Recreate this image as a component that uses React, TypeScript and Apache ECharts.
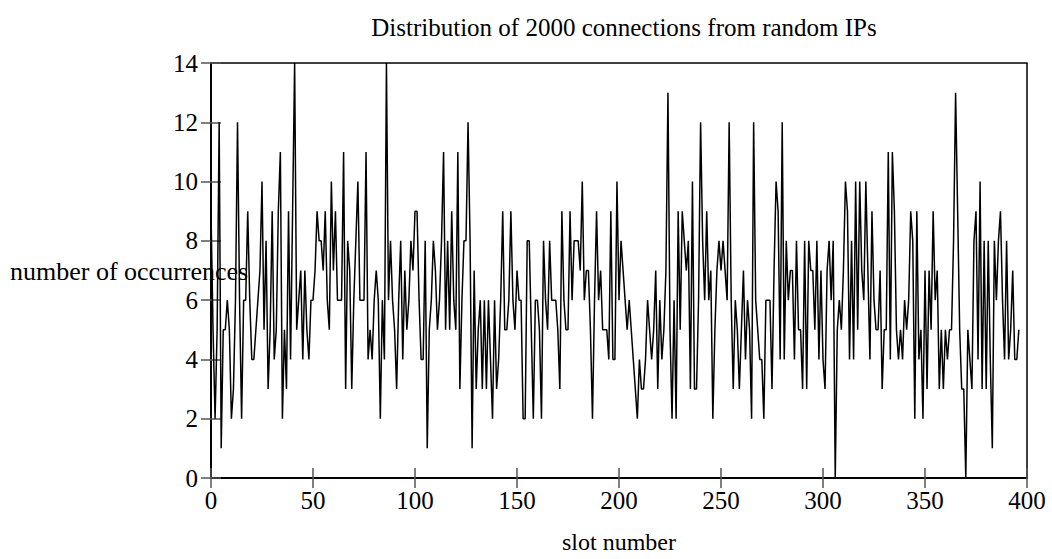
import React, { useEffect, useRef } from "react";
import * as echarts from "echarts";

const titleText = "Distribution of 2000 connections from random IPs";
const xName = "slot number";
const yName = "number of occurrences";

const xTicks = { min: 0, max: 400, interval: 50 };
const yTicks = { min: 0, max: 14, interval: 2 };

// occurrences per slot, slot 0 .. 396
const counts0: number[] = [
  9, 5, 2, 5, 12, 1, 5, 5, 6, 5, 2, 3, 6, 12, 6, 2, 6, 6, 9, 6,
  4, 4, 5, 6, 7, 10, 5, 8, 3, 5, 9, 4, 5, 9, 11, 2, 5, 3, 9, 4,
  9, 14, 5, 6, 7, 4, 7, 5, 4, 6,
];
const counts1: number[] = [
  6, 7, 9, 8, 8, 7, 9, 6, 5, 10, 7, 9, 6, 6, 6, 11, 3, 8, 7, 3,
  6, 8, 10, 6, 6, 6, 11, 4, 5, 4, 6, 7, 6, 2, 6, 4, 14, 6, 8, 6,
  5, 3, 6, 8, 4, 7, 5, 6, 8, 7,
];
const counts2: number[] = [
  9, 9, 6, 4, 4, 8, 1, 5, 6, 8, 7, 5, 6, 8, 11, 5, 8, 5, 9, 6,
  5, 11, 3, 6, 8, 8, 12, 8, 1, 7, 3, 5, 6, 3, 6, 3, 6, 4, 2, 6,
  3, 4, 6, 9, 5, 5, 6, 9, 6, 5,
];
const counts3: number[] = [
  7, 6, 6, 2, 2, 8, 8, 5, 2, 6, 6, 5, 2, 8, 6, 5, 8, 6, 6, 6,
  5, 3, 9, 6, 5, 5, 9, 6, 8, 8, 8, 7, 10, 6, 7, 7, 5, 2, 6, 9,
  6, 7, 5, 5, 5, 4, 9, 4, 4, 10,
];
const counts4: number[] = [
  6, 8, 7, 6, 5, 6, 5, 4, 3, 2, 4, 3, 3, 4, 6, 5, 4, 5, 7, 3,
  6, 4, 5, 7, 13, 5, 2, 6, 2, 9, 5, 9, 8, 7, 8, 3, 10, 3, 3, 6,
  12, 8, 6, 9, 6, 7, 2, 5, 7, 8,
];
const counts5: number[] = [
  7, 8, 7, 6, 12, 6, 3, 6, 5, 3, 5, 7, 4, 6, 5, 2, 12, 6, 5, 4,
  4, 2, 6, 6, 6, 3, 7, 10, 9, 4, 12, 4, 8, 6, 7, 7, 4, 8, 5, 5,
  3, 8, 3, 8, 7, 7, 5, 8, 4, 7,
];
const counts6: number[] = [
  4, 3, 7, 8, 6, 8, 0, 5, 6, 5, 7, 10, 9, 4, 8, 4, 10, 5, 10, 7,
  6, 10, 7, 4, 9, 6, 5, 5, 7, 3, 5, 5, 11, 4, 11, 9, 5, 4, 5, 4,
  6, 5, 6, 9, 8, 2, 9, 4, 5, 2,
];
const counts7: number[] = [
  7, 3, 7, 5, 9, 6, 7, 3, 5, 3, 5, 4, 5, 5, 8, 13, 9, 5, 3, 3,
  0, 5, 4, 3, 8, 9, 4, 10, 3, 8, 3, 8, 4, 1, 8, 6, 8, 9, 6, 4,
  8, 4, 5, 7, 4, 4, 5,
];

const counts: number[] = [
  ...counts0, ...counts1, ...counts2, ...counts3,
  ...counts4, ...counts5, ...counts6, ...counts7,
];

const serif = "'Liberation Serif', 'DejaVu Serif', serif";

export default function App() {
  const ref = useRef<HTMLDivElement>(null);

  useEffect(() => {
    if (!ref.current) return;
    const chart = echarts.init(ref.current, undefined, { renderer: "svg" });
    const data = counts.map((v, i) => [i, v]);
    const axisLineStyle = { color: "#000", width: 1.5 };
    const tickStyle = { color: "#555", width: 1.5 };
    chart.setOption({
      animation: false,
      backgroundColor: "#fff",
      title: {
        text: titleText,
        left: 619,
        textAlign: "center",
        top: 10,
        textStyle: { fontFamily: serif, fontSize: 25, fontWeight: "normal", color: "#000" },
      },
      grid: {
        left: 211,
        top: 63,
        width: 816,
        height: 422,
        show: true,
        borderColor: "#000",
        borderWidth: 1.5,
        backgroundColor: "transparent",
      },
      graphic: [
        {
          type: "text",
          left: 10,
          top: 258,
          style: { text: yName, font: `26px ${serif}`, fill: "#000" },
          z: 100,
        },
      ],
      xAxis: [
        {
          type: "value",
          min: xTicks.min,
          max: xTicks.max,
          interval: xTicks.interval,
          position: "bottom",
          name: xName,
          nameLocation: "middle",
          nameGap: 52,
          nameTextStyle: { fontFamily: serif, fontSize: 24, color: "#000" },
          axisLine: { show: true, lineStyle: axisLineStyle },
          axisTick: { show: true, inside: true, length: 10, lineStyle: tickStyle },
          axisLabel: { margin: 10, fontFamily: serif, fontSize: 25, color: "#000" },
          splitLine: { show: false },
        },
        {
          type: "value",
          min: xTicks.min,
          max: xTicks.max,
          interval: xTicks.interval,
          position: "top",
          axisLine: { show: true, lineStyle: axisLineStyle },
          axisTick: { show: true, inside: true, length: 10, lineStyle: tickStyle },
          axisLabel: { show: false },
          splitLine: { show: false },
        },
      ],
      yAxis: [
        {
          type: "value",
          min: yTicks.min,
          max: yTicks.max,
          interval: yTicks.interval,
          position: "left",
          axisLine: { show: true, lineStyle: axisLineStyle },
          axisTick: { show: true, inside: true, length: 10, lineStyle: tickStyle },
          axisLabel: { margin: 13, fontFamily: serif, fontSize: 25, color: "#000" },
          splitLine: { show: false },
        },
        {
          type: "value",
          min: yTicks.min,
          max: yTicks.max,
          interval: yTicks.interval,
          position: "right",
          axisLine: { show: true, lineStyle: axisLineStyle },
          axisTick: { show: true, inside: true, length: 10, lineStyle: tickStyle },
          axisLabel: { show: false },
          splitLine: { show: false },
        },
      ],
      series: [
        {
          type: "line",
          data,
          xAxisIndex: 0,
          yAxisIndex: 0,
          showSymbol: false,
          symbol: "none",
          lineStyle: { color: "#000", width: 1.5 },
          z: 3,
        },
      ],
    });
    return () => chart.dispose();
  }, []);

  return (
    <div
      ref={ref}
      style={{ position: "fixed", left: 0, top: 0, width: 1052, height: 559, background: "#fff" }}
    />
  );
}
